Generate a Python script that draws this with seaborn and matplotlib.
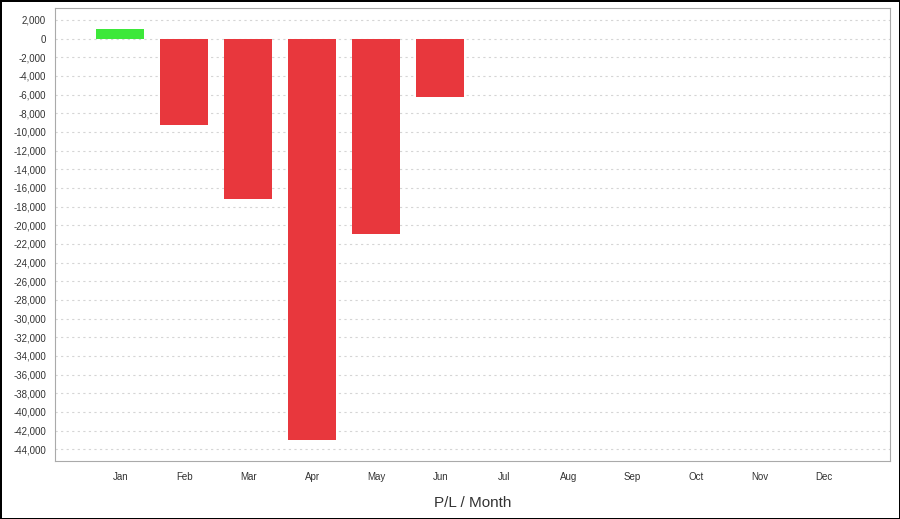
import pandas as pd
import matplotlib
matplotlib.use("Agg")
import matplotlib.pyplot as plt
import seaborn as sns

months = ["Jan", "Feb", "Mar", "Apr", "May", "Jun",
          "Jul", "Aug", "Sep", "Oct", "Nov", "Dec"]
traded = ["Jan", "Feb", "Mar", "Apr", "May", "Jun"]
pl = [1020, -9270, -17200, -43000, -20950, -6270]


def main():
    sns.set_style("white")
    plt.rcParams["font.family"] = ["Liberation Sans", "DejaVu Sans"]

    df = pd.DataFrame({"month": traded, "pl": pl})
    df["sign"] = ["gain" if v >= 0 else "loss" for v in df["pl"]]

    fig = plt.figure(figsize=(9, 5.19), dpi=100)
    fig.patch.set_edgecolor("black")
    fig.patch.set_linewidth(2)
    ax = fig.add_axes([55 / 900, 58 / 519, 835 / 900, 453 / 519])

    sns.barplot(data=df, x="month", y="pl", hue="sign", order=months,
                palette={"gain": "#3de83a", "loss": "#e8373d"},
                dodge=False, width=0.75, saturation=1, legend=False,
                linewidth=0, ax=ax)

    ax.set_ylim(-45260, 3270)
    ax.set_xlim(-1.02, 12.03)
    ax.set_yticks(range(-44000, 2001, 2000))
    ax.yaxis.set_major_formatter(matplotlib.ticker.FuncFormatter(lambda v, p: f"{int(v):,}"))
    ax.yaxis.grid(True, linestyle=(0, (2, 3)), color="#d5d5d5", linewidth=0.8)
    ax.set_axisbelow(True)
    ax.tick_params(axis="both", labelsize=7, length=3, color="#888888", labelcolor="#333333")
    ax.tick_params(axis="x", pad=5)
    ax.set_xlabel("P/L / Month", fontsize=11, color="#333333", labelpad=10)
    ax.set_ylabel("")
    for s in ax.spines.values():
        s.set_color("#aaaaaa")

    fig.savefig("out.png", dpi=100)


if __name__ == "__main__":
    main()
